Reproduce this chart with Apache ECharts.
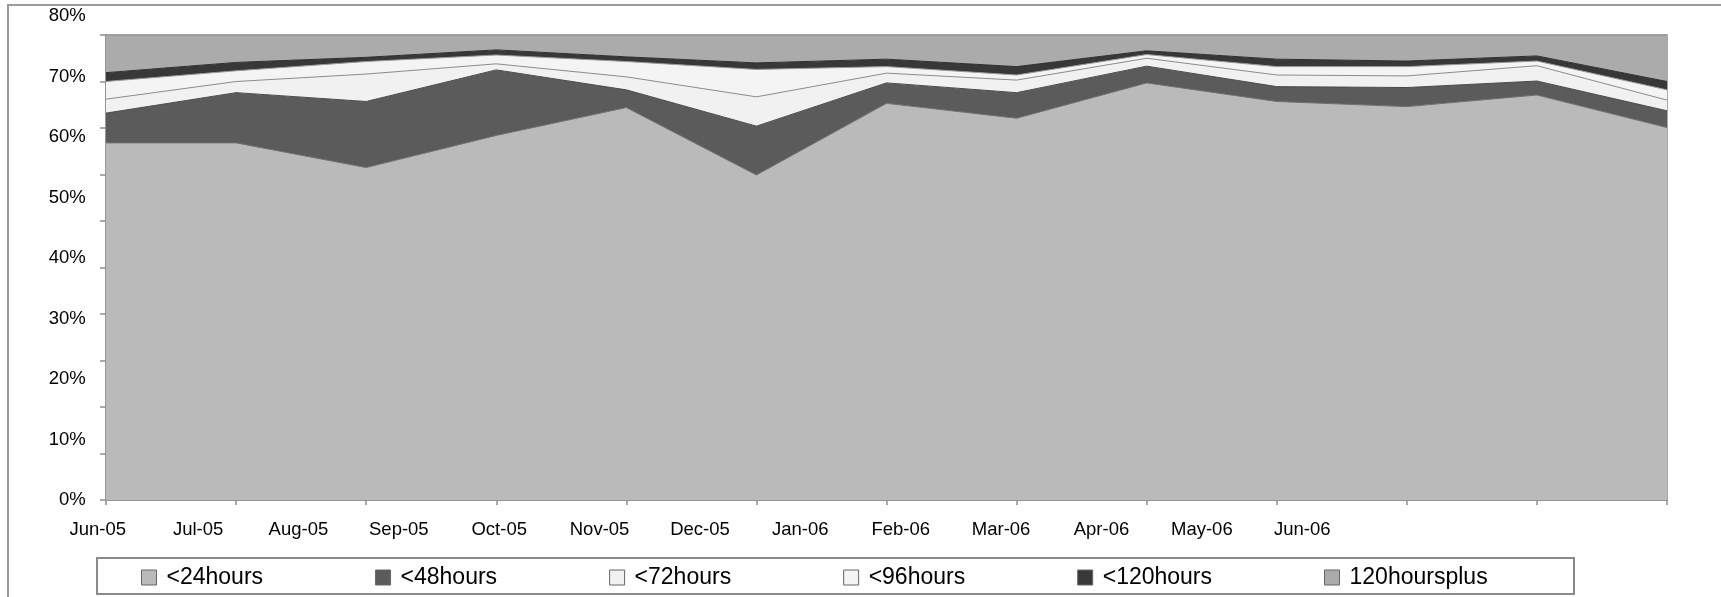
<!DOCTYPE html>
<html>
<head>
    <meta charset="UTF-8">
    <title>Response times</title>
    <script src="https://cdn.jsdelivr.net/npm/echarts@6/dist/echarts.min.js"></script>
    <style>
        html, body { margin: 0; padding: 0; background: #fff; }
        #main { width: 1721px; height: 597px; }
    </style>
</head>
<body>
<div id="main"></div>

<script type="text/javascript">
    // categories (the printed labels are the same months, just spaced tighter than the data)
    var months = ['Jun-05', 'Jul-05', 'Aug-05', 'Sep-05', 'Oct-05', 'Nov-05', 'Dec-05',
                  'Jan-06', 'Feb-06', 'Mar-06', 'Apr-06', 'May-06', 'Jun-06'];
    var yLabels = ['0%', '10%', '20%', '30%', '40%', '50%', '60%', '70%', '80%'];

    // share of cases per band (%)
    var h24   = [76.8, 76.8, 71.5, 78.4, 84.4, 69.9, 85.3, 82.1, 89.7, 85.7, 84.6, 87.1, 80.1];
    var h48   = [6.4, 10.8, 14.2, 14.1, 3.8, 10.5, 4.4, 5.5, 3.6, 3.2, 4.1, 3.0, 3.6];
    var h72   = [3.0, 2.4, 5.9, 1.3, 2.8, 6.3, 2.1, 2.7, 1.7, 2.5, 2.5, 3.3, 2.3];
    var h96   = [3.8, 2.3, 2.7, 1.9, 3.3, 5.9, 1.4, 1.1, 0.8, 1.8, 2.0, 1.0, 2.2];
    var h120  = [1.9, 1.8, 0.9, 1.1, 1.0, 1.4, 1.6, 1.8, 0.8, 1.6, 1.2, 1.1, 1.8];
    var hPlus = [8.1, 5.9, 4.8, 3.2, 4.7, 6.0, 5.2, 6.8, 3.4, 5.2, 5.6, 4.5, 10.0];

    var names = ['<24hours', '<48hours', '<72hours', '<96hours', '<120hours', '120hoursplus'];
    var fills = ['#bababa', '#5b5b5b', '#f1f1f1', '#f4f4f4', '#383838', '#ababab'];
    var edges = ['#6e6e6e', '#4a4a4a', '#8c8c8c', '#9a9a9a', '#2e2e2e', '#8a8a8a'];
    var values = [h24, h48, h72, h96, h120, hPlus];

    var font = "'Liberation Sans', Arial, sans-serif";

    var series = names.map(function (n, i) {
        return {
            name: n,
            type: 'line',
            stack: 'total',
            xAxisIndex: 0,
            yAxisIndex: 0,
            symbol: 'none',
            smooth: false,
            data: values[i],
            itemStyle: {color: fills[i], borderColor: '#555', borderWidth: 1},
            lineStyle: {color: edges[i], width: 1},
            areaStyle: {color: fills[i], opacity: 1}
        };
    });

    var myChart = echarts.init(document.getElementById('main'), null, {renderer: 'canvas'});

    var option = {
        animation: false,
        backgroundColor: '#ffffff',
        textStyle: {fontFamily: font},
        grid: [
            // plot area
            {left: 106, top: 35, width: 1561, height: 465, show: true,
             borderColor: '#8f8f8f', borderWidth: 1.5, backgroundColor: 'transparent'},
            // label grid
            {left: 97.7, top: 16, width: 1204.5, height: 484}
        ],
        xAxis: [
            {
                type: 'category', gridIndex: 0, data: months, boundaryGap: false,
                axisLine: {lineStyle: {color: '#8f8f8f', width: 1.5}},
                axisTick: {show: true, length: 5, lineStyle: {color: '#8f8f8f', width: 1.5}},
                axisLabel: {show: false},
                splitLine: {show: false}
            },
            {
                type: 'category', gridIndex: 1, data: months, boundaryGap: false,
                axisLine: {show: false},
                axisTick: {show: false},
                splitLine: {show: false},
                axisLabel: {
                    show: true, interval: 0, margin: 20,
                    color: '#000', fontSize: 18.5, fontFamily: font
                }
            }
        ],
        yAxis: [
            {
                type: 'value', gridIndex: 0, min: 0, max: 100, interval: 10,
                axisLine: {show: true, lineStyle: {color: '#8f8f8f', width: 1.5}},
                axisTick: {show: true, length: 6, lineStyle: {color: '#8f8f8f', width: 1.5}},
                axisLabel: {show: false},
                splitLine: {show: false}
            },
            {
                type: 'category', gridIndex: 1, data: yLabels, boundaryGap: false,
                axisLine: {show: false},
                axisTick: {show: false},
                splitLine: {show: false},
                axisLabel: {
                    show: true, interval: 0, margin: 12,
                    color: '#000', fontSize: 18.5, fontFamily: font
                }
            }
        ],
        legend: {
            data: names,
            left: 141,
            top: 566,
            orient: 'horizontal',
            icon: 'rect',
            itemWidth: 15,
            itemHeight: 15,
            itemGap: 112,
            padding: 0,
            itemStyle: {borderColor: '#666', borderWidth: 1},
            textStyle: {color: '#000', fontSize: 23, fontFamily: font, lineHeight: 22, padding: [0, 0, 0, 5]}
        },
        graphic: [
            {   // outer chart frame (cut off at right/bottom)
                type: 'rect', silent: true, z: -10,
                shape: {x: 8, y: 5, width: 1800, height: 800},
                style: {fill: 'none', stroke: '#9a9a9a', lineWidth: 2}
            },
            {   // legend box
                type: 'rect', silent: true, z: -10,
                shape: {x: 97, y: 558, width: 1477, height: 36},
                style: {fill: '#fff', stroke: '#8a8a8a', lineWidth: 2}
            }
        ],
        series: series
    };

    myChart.setOption(option);
</script>
</body>
</html>
